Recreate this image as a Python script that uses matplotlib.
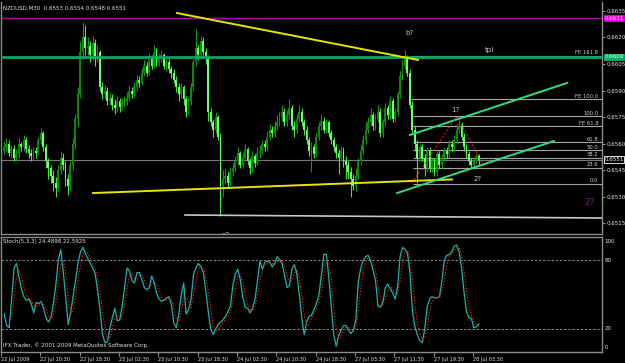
import numpy as np
import pandas as pd
import matplotlib
matplotlib.use("Agg")
import matplotlib.pyplot as plt
import matplotlib.transforms as mtransforms

# NZDUSD M30 bars, prices given in pips above 0.6500
close_pips = [58, 60, 55, 57, 52, 54, 60, 58, 62, 57, 55, 53, 56,
              55, 62, 66, 58, 50, 46,
              42, 38, 35, 45, 52, 48, 40, 36,
              48, 60, 74, 88,
              112, 120, 114,
              115, 110, 117, 108, 112,
              92, 88, 90, 84, 86, 82, 80, 84, 81, 83,
              84, 86, 90, 88, 92, 96, 94, 100, 104, 100, 108, 104, 112, 106, 108, 110,
              104, 106, 102, 100,
              96, 92, 88, 92, 85, 78, 84, 92,
              106, 114, 110, 118, 112, 108,
              78,
              72, 68, 75, 64,
              36,
              40, 42, 38, 44,
              46, 50, 55, 48, 52, 57, 50, 46, 53, 49, 55,
              56, 60, 58, 64, 68, 66, 70, 72,
              75, 78, 72, 76, 80, 70, 68, 74, 78, 72, 68,
              62, 56, 58, 54,
              64, 70, 73, 68, 72, 66,
              62, 58, 55, 52, 56, 50, 48,
              44, 40, 36, 42,
              50, 56, 62, 68, 72, 76,
              70, 74, 78, 66, 72, 80, 76, 84, 74, 78,
              88, 98,
              104, 108, 100,
              82,
              68, 60, 52, 58,
              52, 46, 56, 46, 50, 44, 54, 48,
              52, 56, 54, 60, 58, 62, 68, 70, 64,
              58, 54, 50, 48,
              50, 53, 51]
high_pips = [61, 63, 62, 59, 59, 57, 63, 61, 65, 64, 59, 57, 58,
             58, 64, 69, 67, 60, 52,
             48, 45, 41, 48, 56, 55, 50, 43,
             50, 63, 77, 92,
             118, 129, 127,
             120, 118, 121, 119, 116,
             113, 95, 93, 92, 89, 88, 85, 87, 86, 86,
             87, 89, 93, 92, 95, 99, 98, 103, 107, 106, 111, 110, 116, 114, 111, 113,
             111, 108, 108, 104,
             102, 98, 94, 94, 93, 87, 86, 94,
             108, 125, 116, 121, 120, 114,
             110,
             80, 74, 78, 76,
             66,
             45, 46, 44, 47,
             49, 53, 58, 56, 55, 60, 58, 52, 56, 54, 58,
             59, 62, 62, 67, 71, 70, 73, 76,
             78, 82, 80, 79, 85, 82, 73, 77, 82, 80, 74,
             70, 64, 61, 60,
             66, 72, 76, 75, 74, 73,
             68, 64, 60, 57, 58, 58, 53,
             50, 47, 43, 46,
             52, 59, 65, 72, 75, 80,
             78, 77, 82, 80, 74, 83, 82, 87, 86, 80,
             90, 101,
             107, 113, 110,
             102,
             84, 70, 62, 60,
             60, 54, 58, 58, 52, 52, 56, 56,
             54, 58, 58, 62, 62, 65, 71, 73, 72,
             66, 60, 56, 52,
             52, 55, 54]
low_pips = [54, 56, 53, 52, 50, 50, 52, 56, 56, 55, 52, 50, 51,
            52, 54, 60, 56, 46, 40,
            38, 33, 30, 33, 43, 45, 36, 31,
            34, 45, 57, 70,
            86, 108, 110,
            110, 106, 107, 104, 106,
            90, 85, 86, 82, 82, 79, 77, 78, 78, 79,
            81, 82, 84, 86, 86, 90, 92, 93, 98, 98, 99, 102, 103, 104, 104, 106,
            102, 101, 100, 97,
            94, 89, 84, 86, 82, 75, 76, 82,
            90, 104, 107, 108, 110, 105,
            73,
            70, 64, 66, 62,
            19,
            30, 37, 35, 36,
            42, 44, 48, 46, 46, 50, 48, 43, 44, 47, 48,
            52, 54, 56, 56, 62, 64, 64, 68,
            70, 73, 70, 70, 74, 68, 64, 66, 72, 70, 65,
            60, 53, 44, 52,
            53, 62, 68, 66, 66, 64,
            60, 56, 52, 43, 50, 47, 40,
            40, 30, 34, 33,
            40, 48, 54, 60, 66, 70,
            68, 68, 72, 64, 64, 70, 74, 74, 72, 72,
            76, 86,
            96, 102, 98,
            80,
            66, 56, 38, 50,
            50, 42, 44, 44, 44, 42, 42, 46,
            46, 50, 52, 52, 56, 56, 60, 66, 62,
            56, 52, 48, 46,
            46, 49, 48]
first_open = 56

# Stochastic %K main line, read per bar
stoch_k = [33, 23, 21, 45, 73, 77, 65, 55, 48, 45,
           46, 42, 34, 43, 42, 44, 38, 30, 26, 30,
           42, 58, 80, 89, 70, 48, 24, 34, 48, 62,
           77, 87, 91, 86, 81, 77, 73, 68, 53, 36,
           15, 8, 9, 21, 30, 38, 27, 28, 40, 57,
           73, 70, 62, 60, 69, 69, 63, 56, 54, 56,
           66, 60, 51, 46, 44, 45, 47, 48, 41, 25,
           21, 33, 50, 60, 33, 37, 46, 68, 73, 77,
           74, 69, 53, 35, 20, 15, 20, 24, 26, 28,
           31, 35, 40, 58, 68, 72, 63, 48, 39, 38,
           34, 38, 46, 62, 79, 72, 78, 79, 78, 74,
           77, 83, 80, 77, 67, 56, 58, 72, 76, 68,
           50, 30, 15, 26, 31, 32, 37, 42, 50, 67,
           85, 85, 65, 40, 15, 5, 14, 19, 23, 23,
           19, 16, 19, 28, 61, 73, 80, 83, 84, 79,
           71, 62, 40, 39, 43, 56, 59, 55, 51, 46,
           57, 83, 91, 89, 86, 69, 36, 22, 15, 10,
           8, 20, 39, 46, 48, 47, 47, 48, 62, 80,
           84, 85, 87, 92, 93, 87, 73, 52, 35, 30,
           29, 21, 22, 24.4898]

time_labels = ["22 Jul 2009", "22 Jul 10:30", "22 Jul 18:30", "23 Jul 02:30",
               "23 Jul 10:30", "23 Jul 18:30", "24 Jul 02:30", "24 Jul 10:30",
               "24 Jul 18:30", "27 Jul 03:30", "27 Jul 11:30", "27 Jul 19:30",
               "28 Jul 03:30"]
price_ticks = [0.6635, 0.6620, 0.6605, 0.6590, 0.6575, 0.6560, 0.6545, 0.6530, 0.6515]

# chart objects (bar index, price)
resist_line = [(70.3, 0.66338), (168.3, 0.66073)]
support_line = [(36.2, 0.65321), (182.1, 0.65398)]
floor_line = [(73.6, 0.65197), (243.0, 0.65180)]
chan_upper = [(165.0, 0.65649), (228.9, 0.65943)]
chan_lower = [(159.8, 0.65321), (223.6, 0.65615)]
wave_x = [165.9, 184.1, 195.1]
wave_y = [0.65378, 0.65756, 0.65474]
magenta_level = 0.6631
green_level = 0.6609
bid = 0.6551
fib_low, fib_high = 0.65372, 0.65754
fib_levels = [0.0, 23.6, 38.2, 50.0, 61.8, 100.0]
fe_zero, fe_range = 0.65450, 0.00400
fe_levels = [61.8, 100.0, 161.8]
fib_start = 165.5

closes = 0.65 + np.array(close_pips) / 10000
highs = 0.65 + np.array(high_pips) / 10000
lows = 0.65 + np.array(low_pips) / 10000
opens = np.concatenate([[0.65 + first_open / 10000], closes[:-1]])
n = len(closes)
x = np.arange(n)
k = pd.Series(stoch_k)
d = k.rolling(3).mean()

fig = plt.figure(figsize=(6.25, 3.63), dpi=100, facecolor="black")
ax1 = fig.add_axes([1 / 625, 1 - 234 / 363, 601 / 625, 232 / 363])
ax2 = fig.add_axes([1 / 625, 1 - 352 / 363, 601 / 625, 115 / 363])
xmin, xmax = -1.2, 243.1
txt = "#e6e6e6"
frame = "#8c8c8c"

for ax in (ax1, ax2):
    ax.set_facecolor("black")
    ax.set_xlim(xmin, xmax)
    for s in ax.spines.values():
        s.set_color(frame)
        s.set_linewidth(1)

# candles: bullish dark green, bearish light green
bull = closes >= opens
wick_col = np.where(bull, "#0d9a0d", "#3fe83f")
body_col = np.where(bull, "#0b870b", "#6dff6d")
ax1.vlines(x, lows, highs, colors=wick_col, lw=0.8, zorder=3)
body_h = np.maximum(np.abs(closes - opens), 0.00003)
ax1.bar(x, body_h, bottom=np.minimum(opens, closes), width=0.75,
        color=body_col, linewidth=0, zorder=4)

ax1.set_ylim(0.650897, 0.664004)
ax1.spines["top"].set_visible(False)
ax1.set_xticks([])
ax1.yaxis.tick_right()
ax1.set_yticks(price_ticks)
ax1.set_yticklabels([f"{v:.4f}" for v in price_ticks])
ax1.tick_params(axis="y", colors=frame, labelcolor=txt, labelsize=4, length=2, pad=1)

# horizontal levels
ax1.axhline(magenta_level, color="#b000b0", lw=1, zorder=2)
ax1.axhline(green_level, color="#00a862", lw=2, zorder=5)
ax1.axhline(bid, color="#7a7a7a", lw=0.8, zorder=2)

# fibo retracement + expansion
for lv in fib_levels:
    p = fib_low + (fib_high - fib_low) * lv / 100
    ax1.hlines(p, fib_start + 0.8, xmax, color="#a8a8a8", lw=0.8, zorder=2)
    ax1.text(241.6, p + 0.00004, f"{lv:.1f}", color="#d0d0d0", fontsize=3.8,
             ha="right", va="bottom", zorder=6)
for lv in fe_levels:
    p = fe_zero + fe_range * lv / 100
    ax1.hlines(p, fib_start, xmax, color="#a8a8a8", lw=0.8, zorder=2)
    ax1.text(241.6, p + 0.00004, f"FE {lv:.1f}", color="#d0d0d0", fontsize=3.8,
             ha="right", va="bottom", zorder=6)

# trend lines
for seg, col, lw in [(resist_line, "#e6e600", 1.4), (support_line, "#e6e600", 1.4),
                     (floor_line, "#c8c8c8", 1.2), (chan_upper, "#2ee07a", 1.4),
                     (chan_lower, "#2ee07a", 1.4)]:
    ax1.plot([seg[0][0], seg[1][0]], [seg[0][1], seg[1][1]], color=col, lw=lw, zorder=5)
ax1.plot(wave_x, wave_y, color="#ff2020", lw=0.8, ls=(0, (1.5, 2)), zorder=6)

# wave labels
lbl = "#c8c8c8"
ax1.text(165, 0.66225, "b?", color=lbl, fontsize=5, ha="center", va="center")
ax1.text(197.6, 0.66129, "tp!", color=lbl, fontsize=5, ha="center", va="center")
ax1.text(183.3, 0.65790, "1?", color=lbl, fontsize=5, ha="center", va="center")
ax1.text(192.7, 0.65400, "2?", color=lbl, fontsize=5, ha="center", va="center")
ax1.text(238.2, 0.65265, "2?", color="#8a1a8a", fontsize=6.5, ha="center", va="center")
ax1.text(90.2, 0.65085, "a?", color=lbl, fontsize=5, ha="center", va="center", clip_on=True)

# price boxes on the right scale
tr = mtransforms.blended_transform_factory(ax1.transAxes, ax1.transData)
for p, fc, ec, tc in [(magenta_level, "#e000e0", "#e000e0", "#ffd0ff"),
                      (green_level, "#00b064", "#00b064", "#e8ffe8"),
                      (bid, "black", "white", "white")]:
    ax1.text(1.004, p, f"{p:.4f}", transform=tr, color=tc, fontsize=4,
             ha="left", va="center", clip_on=False, zorder=10,
             bbox=dict(boxstyle="square,pad=0.15", fc=fc, ec=ec, lw=0.6))

# stochastic panel
ax2.plot(x, k, color="#20b2aa", lw=0.9, zorder=3)
ax2.plot(x, d, color="#ff1a1a", lw=0.8, ls=(0, (1.2, 1.6)), zorder=4)
for lv in (80, 20):
    ax2.axhline(lv, color="#9a9a9a", lw=0.6, ls=(0, (3, 2)), zorder=1)
ax2.set_ylim(0, 100)
ax2.set_yticks([])
for v, pos in [(100, 96.5), (80, 80), (20, 20), (0, 3.5)]:
    ax2.text(1.004, pos, str(v), transform=mtransforms.blended_transform_factory(
        ax2.transAxes, ax2.transData), color=txt, fontsize=4, ha="left",
        va="center", clip_on=False)
tick_pos = [16 * i - 1.3 for i in range(len(time_labels))]
ax2.set_xticks(tick_pos)
ax2.set_xticklabels(time_labels)
ax2.tick_params(axis="x", colors=frame, labelcolor=txt, labelsize=3.6,
                length=3, pad=0.5)
plt.setp(ax2.get_xticklabels(), ha="left")

fig.text(3 / 625, 1 - 8 / 363, "NZDUSD,M30  0.6553 0.6554 0.6548 0.6551",
         color=txt, fontsize=4, va="center", ha="left")
fig.text(3 / 625, 1 - 242 / 363, "Stoch(5,3,3) 24.4898 22.5925",
         color=txt, fontsize=4, va="center", ha="left")
fig.text(3 / 625, 1 - 345 / 363, "IFX Trader, \u00a9 2001-2009 MetaQuotes Software Corp.",
         color=txt, fontsize=4, va="center", ha="left")

fig.savefig("out.png", dpi=100, facecolor="black")
